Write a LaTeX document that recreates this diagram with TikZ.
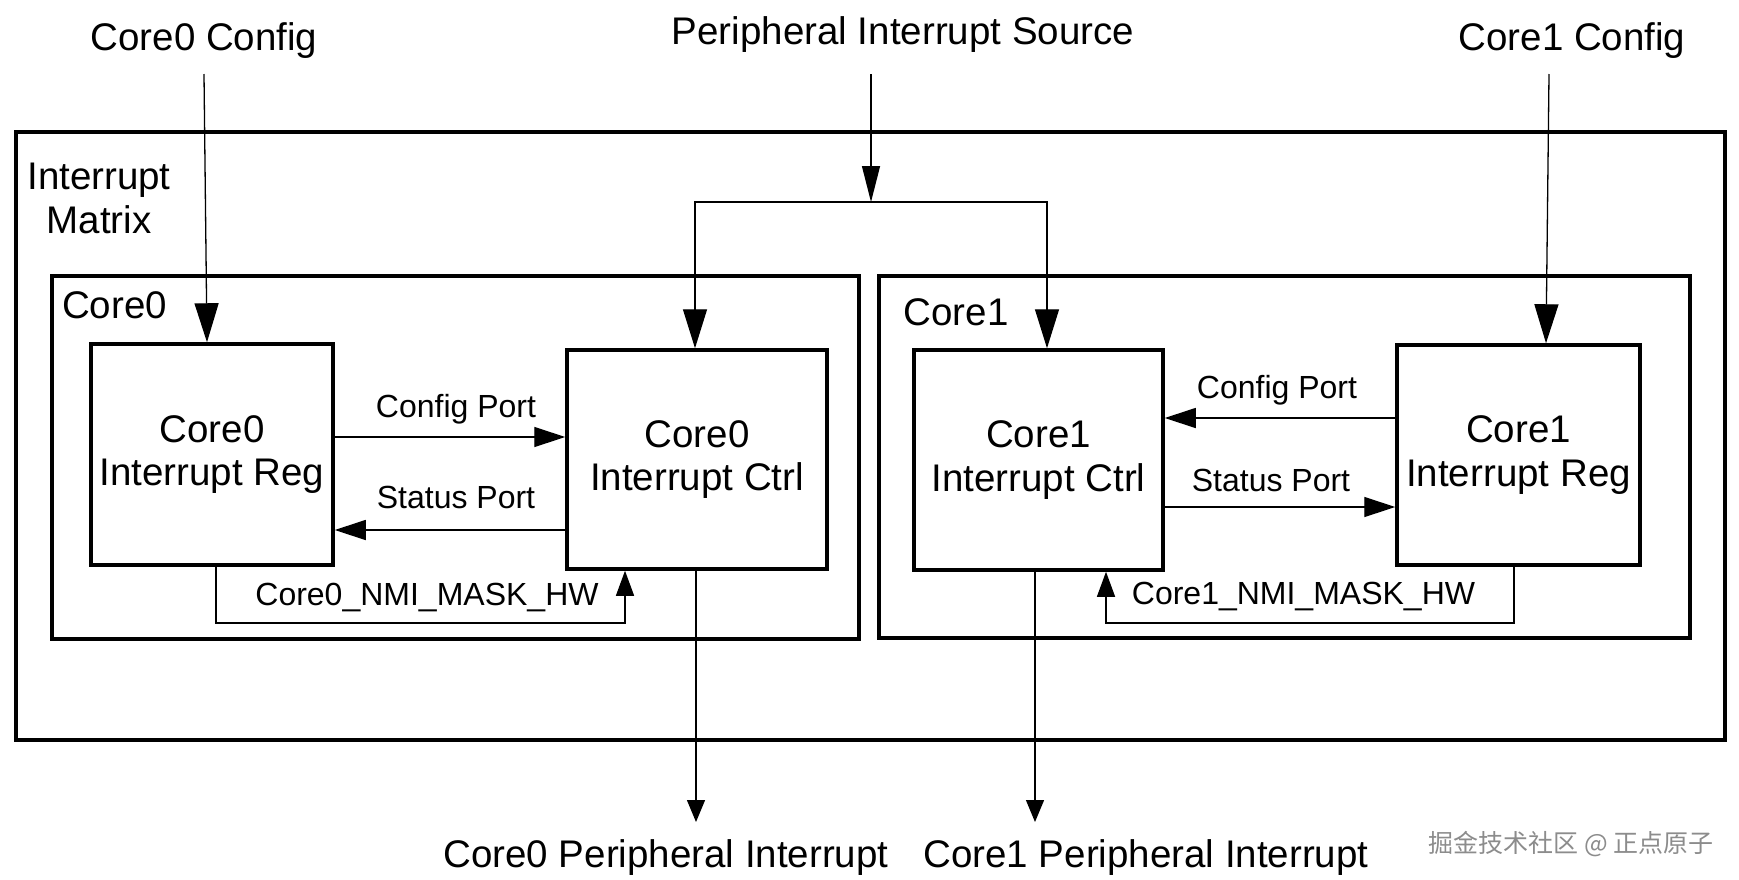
\documentclass[tikz,border=0pt]{standalone}
\usepackage{fontspec}
\setmainfont{Liberation Sans}
\newfontfamily\cjkfont{Noto Sans CJK SC}
\usetikzlibrary{arrows.meta}
\begin{document}
\begin{tikzpicture}[x=1pt,y=-1pt,
  big/.style={font=\fontsize{38.5}{43.5}\selectfont, inner sep=0pt},
  small/.style={font=\fontsize{32}{38}\selectfont, inner sep=0pt},
  frame/.style={draw, line width=3.5pt},
  blk/.style={draw, line width=3.5pt, inner sep=0pt, align=center, font=\fontsize{38.5}{43.5}\selectfont},
  wire/.style={line width=1.3pt},
  tipA/.style={-{Triangle[length=39pt,width=24pt]}},
  tipP/.style={-{Triangle[length=36pt,width=18pt]}},
  tipPort/.style={-{Triangle[length=31pt,width=20pt]}},
  tipN/.style={-{Triangle[length=25pt,width=18pt]}},
  tipO/.style={-{Triangle[length=22pt,width=18pt]}}
]
\useasboundingbox (0,0) rectangle (1739,879);
\fill[white] (0,0) rectangle (1739,879);

% frames
\draw[frame] (16,132) rectangle (1725,740);
\draw[frame] (52,276) rectangle (859,639);
\draw[frame] (879,276) rectangle (1690,638);

\node[big, anchor=base, align=center] (mtx) at (99,233) {Interrupt\\Matrix};
\node[big, anchor=base] (core0lbl) at (114.5,318) {Core0};
\node[big, anchor=base] (core1lbl) at (956,325) {Core1};

% blocks
\node[blk, minimum width=242pt, minimum height=221pt] (c0reg) at (212,454.5) {Core0\\Interrupt Reg};
\node[blk, minimum width=260pt, minimum height=219pt] (c0ctrl) at (697,459.5) {Core0\\Interrupt Ctrl};
\node[blk, minimum width=249pt, minimum height=220pt] (c1ctrl) at (1038.5,460) {Core1\\Interrupt Ctrl};
\node[blk, minimum width=243pt, minimum height=220pt] (c1reg) at (1518.5,455) {Core1\\Interrupt Reg};

% top labels
\node[big, anchor=base] (c0cfg) at (204,50) {Core0 Config};
\node[big, anchor=base] (pis) at (903,44) {Peripheral Interrupt Source};
\node[big, anchor=base] (c1cfg) at (1572,50) {Core1 Config};

\coordinate (c0in) at (204,74);
\coordinate (c1in) at (1549,74);
\coordinate (psin) at (871,74);
\coordinate (junc) at (871,202);

\draw[wire,tipA] (c0in) -- ([xshift=-5pt]c0reg.north);
\draw[wire,tipA] (c1in) -- ([xshift=27.5pt]c1reg.north);
\draw[wire,tipP] (psin) -- (junc);
\draw[wire,tipA] (junc) -| ([xshift=-2pt]c0ctrl.north);
\draw[wire,tipA] (junc) -| ([xshift=8.5pt]c1ctrl.north);

% ports
\coordinate (y0cfg) at (0,437);
\coordinate (y0st) at (0,530);
\coordinate (y1cfg) at (0,418);
\coordinate (y1st) at (0,507);
\draw[wire,tipPort] (c0reg.east |- y0cfg) -- (c0ctrl.west |- y0cfg);
\draw[wire,tipPort] (c0ctrl.west |- y0st) -- (c0reg.east |- y0st);
\draw[wire,tipPort] (c1reg.west |- y1cfg) -- (c1ctrl.east |- y1cfg);
\draw[wire,tipPort] (c1ctrl.east |- y1st) -- (c1reg.west |- y1st);
\node[small, anchor=base] (l0cfg) at (456,417) {Config Port};
\node[small, anchor=base] (l0st) at (456,508) {Status Port};
\node[small, anchor=base] (l1cfg) at (1277,398) {Config Port};
\node[small, anchor=base] (l1st) at (1271,491) {Status Port};

% NMI mask feedback
\coordinate (ynmi) at (0,623);
\draw[wire,tipN] ([xshift=4pt]c0reg.south) -- ([xshift=4pt]c0reg.south |- ynmi) -| ([xshift=-72pt]c0ctrl.south);
\draw[wire,tipN] ([xshift=-4.5pt]c1reg.south) -- ([xshift=-4.5pt]c1reg.south |- ynmi) -| ([xshift=67.5pt]c1ctrl.south);
\node[small, anchor=base] (l0nmi) at (427,605) {Core0\_NMI\_MASK\_HW};
\node[small, anchor=base] (l1nmi) at (1303.5,604) {Core1\_NMI\_MASK\_HW};

% outputs
\coordinate (o0) at (696,822);
\coordinate (o1) at (1035,822);
\draw[wire,tipO] ([xshift=-1pt]c0ctrl.south) -- (o0);
\draw[wire,tipO] ([xshift=-3.5pt]c1ctrl.south) -- (o1);
\node[big, anchor=base] (o0lbl) at (666,867) {Core0 Peripheral Interrupt};
\node[big, anchor=base] (o1lbl) at (1146,867) {Core1 Peripheral Interrupt};

% watermark
\node[anchor=base, inner sep=0pt, text=black!45, font=\cjkfont\fontsize{25}{30}\selectfont] (wm) at (1571,852) {掘金技术社区 @ 正点原子};
\end{tikzpicture}
\end{document}
